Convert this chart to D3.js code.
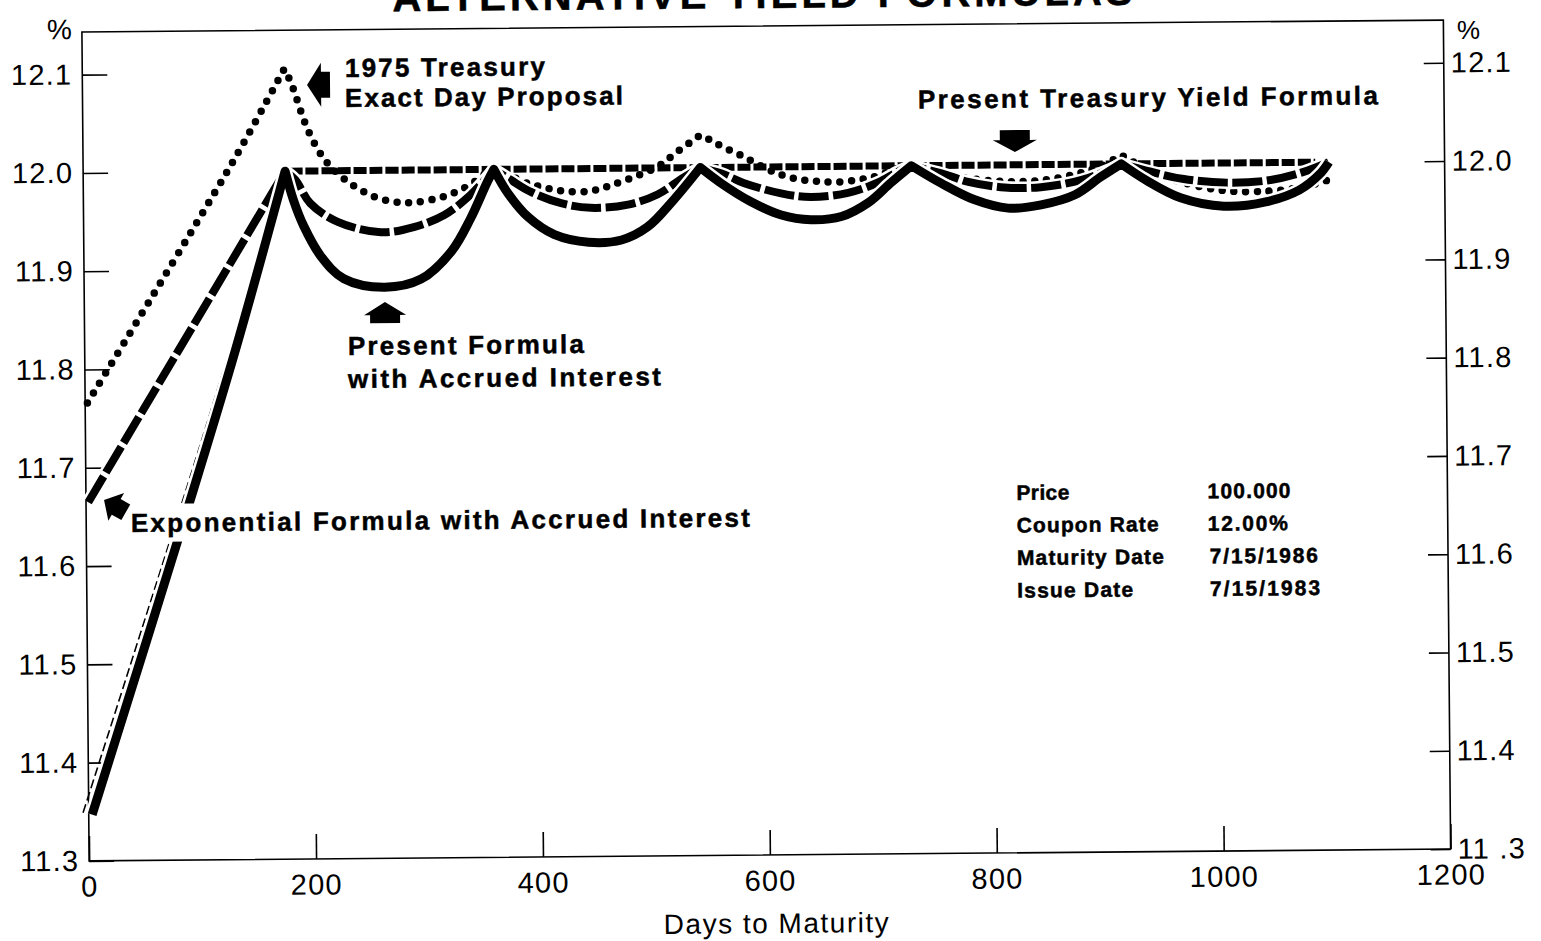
<!DOCTYPE html>
<html>
<head>
<meta charset="utf-8">
<title>Alternative Yield Formulas</title>
<script src="https://cdn.jsdelivr.net/npm/d3@7"></script>
<style>
  html, body { margin: 0; padding: 0; background: #ffffff; }
  svg { display: block; }
  text { font-family: "Liberation Sans", Arial, Helvetica, sans-serif; fill: #000; }
  .bold { font-weight: bold; stroke: #000; stroke-width: 0.5px; }
</style>
</head>
<body>
<div id="chart"></div>
<script>
// Axis ticks
const dayTicks = [0, 200, 400, 600, 800, 1000, 1200];
const yieldTicks = [11.3, 11.4, 11.5, 11.6, 11.7, 11.8, 11.9, 12.0, 12.1];
const leftYieldLabels = ["11.3", "11.4", "11.5", "11.6", "11.7", "11.8", "11.9", "12.0", "12.1"];
const rightYieldLabels = ["11 .3", "11.4", "11.5", "11.6", "11.7", "11.8", "11.9", "12.0", "12.1"];

// Series, one array per coupon period, points are [days to maturity, yield %]
const presentWithAccrued = [
  [[3, 11.347], [91, 11.663], [133, 11.819], [178, 12.0]],
  [[178, 12.0], [185, 11.971], [194, 11.944], [209, 11.913], [229, 11.890], [265, 11.881], [297, 11.889], [324, 11.917], [341, 11.950], [356, 11.987], [362, 12.0]],
  [[362, 12.0], [374, 11.976], [392, 11.951], [415, 11.933], [445, 11.925], [474, 11.927], [497, 11.940], [520, 11.967], [544, 12.0]],
  [[544, 12.0], [562, 11.984], [588, 11.965], [615, 11.951], [641, 11.946], [668, 11.949], [692, 11.963], [712, 11.983], [730, 12.0]],
  [[730, 12.0], [756, 11.982], [785, 11.965], [815, 11.956], [844, 11.959], [874, 11.969], [897, 11.987], [915, 12.0]],
  [[915, 12.0], [937, 11.983], [967, 11.965], [1005, 11.956], [1042, 11.960], [1072, 11.972], [1090, 11.988], [1098, 12.0]]
];

const exponentialWithAccrued = [
  [[2, 11.665], [178, 12.0]],
  [[178, 12.0], [187, 11.991], [200, 11.967], [224, 11.948], [262, 11.937], [291, 11.942], [318, 11.954], [341, 11.974], [356, 11.992], [362, 12.0]],
  [[362, 12.0], [377, 11.989], [394, 11.977], [421, 11.965], [447, 11.960], [480, 11.963], [506, 11.973], [529, 11.990], [544, 12.0]],
  [[544, 12.0], [562, 11.994], [582, 11.984], [615, 11.973], [641, 11.969], [674, 11.973], [700, 11.983], [718, 11.994], [730, 12.0]],
  [[730, 12.0], [762, 11.990], [780, 11.983], [812, 11.977], [844, 11.977], [880, 11.984], [904, 11.994], [915, 12.0]],
  [[915, 12.0], [940, 11.992], [970, 11.984], [1008, 11.980], [1045, 11.982], [1075, 11.990], [1098, 12.0]]
];

const presentTreasury = [
  [[182, 12.0], [362, 12.0], [544, 12.0], [730, 12.0], [915, 12.0], [1086, 12.0]]
];

const presentTreasuryLastPeriod = [
  [[-5, 11.349], [85, 11.665], [128, 11.819], [178, 12.0]]
];

const exactDay1975 = [
  [[2, 11.766], [132, 12.010], [178, 12.104]],
  [[178, 12.104], [182, 12.095], [187, 12.080], [192, 12.062], [198, 12.043], [206, 12.024], [216, 12.007], [233, 11.989], [253, 11.975], [273, 11.968], [290, 11.967], [312, 11.971], [330, 11.978], [347, 11.989], [362, 12.0],
   [388, 11.987], [406, 11.981], [425, 11.977], [446, 11.977], [463, 11.982], [483, 11.990], [506, 12.001], [519, 12.012], [528, 12.020], [537, 12.027], [544, 12.033]],
  [[544, 12.033], [553, 12.028], [562, 12.022], [571, 12.017], [580, 12.012], [588, 12.007], [608, 11.995], [618, 11.991], [627, 11.988], [637, 11.986], [648, 11.985], [660, 11.984], [676, 11.985], [688, 11.987], [697, 11.989], [730, 12.0],
   [756, 11.991], [785, 11.986], [815, 11.983], [845, 11.984], [875, 11.990], [897, 11.998], [915, 12.009]],
  [[915, 12.009], [935, 11.996], [965, 11.982], [1005, 11.972], [1045, 11.971], [1075, 11.975], [1101, 11.983]]
];

// Bond description box
const bondTerms = ["Price", "Coupon Rate", "Maturity Date", "Issue Date"];
const bondValues = ["100.000", "12.00%", "7/15/1986", "7/15/1983"];


const width = 1541, height = 941;
const svg = d3.select("#chart").append("svg")
  .attr("width", width)
  .attr("height", height);

// the scanned page sits tilted by about half a degree
const chart = svg.append("g").attr("transform", "rotate(-0.5 766 440)");

const x = d3.scaleLinear().domain([0, 1200]).range([85.5, 1447]);
const y = d3.scaleLinear().domain([11.3, 12.0]).range([855, 167]);
const plotTop = 26;

// Frame
chart.append("rect")
  .attr("x", x(0))
  .attr("y", plotTop)
  .attr("width", x(1200) - x(0))
  .attr("height", y(11.3) - plotTop)
  .attr("fill", "none")
  .attr("stroke", "#000")
  .attr("stroke-width", 1.6);

function styleAxis(sel) {
  sel.attr("font-family", null).attr("font-size", null);
  sel.select(".domain").remove();
  sel.selectAll(".tick line").attr("stroke", "#000").attr("stroke-width", 1.6);
  sel.selectAll(".tick text")
    .style("font-size", "29px")
    .style("letter-spacing", "1.2px");
}

// Axes, ticks point inward
chart.append("g")
  .attr("transform", `translate(0,${y(11.3)})`)
  .call(d3.axisBottom(x).tickValues(dayTicks).tickSize(-25).tickPadding(15).tickFormat(d3.format("d")))
  .call(styleAxis);

chart.append("g")
  .attr("transform", `translate(${x(0)},0)`)
  .call(d3.axisLeft(y).tickValues(yieldTicks).tickSize(-25).tickPadding(10).tickFormat((d, i) => leftYieldLabels[i]))
  .call(styleAxis);

chart.append("g")
  .attr("transform", `translate(${x(1200)},0)`)
  .call(d3.axisRight(y).tickValues(yieldTicks).tickSize(-20).tickPadding(7).tickFormat((d, i) => rightYieldLabels[i]))
  .call(styleAxis);

// Unit labels
chart.append("text")
  .attr("x", 63).attr("y", 33)
  .attr("text-anchor", "middle")
  .attr("font-size", 28)
  .text("%");

chart.append("text")
  .attr("x", 1472).attr("y", 45)
  .attr("text-anchor", "middle")
  .attr("font-size", 26)
  .text("%");

// Titles
chart.append("text")
  .attr("class", "bold")
  .attr("x", x(600)).attr("y", 8)
  .attr("text-anchor", "middle")
  .attr("font-size", 40)
  .attr("textLength", 740)
  .attr("lengthAdjust", "spacing")
  .text("ALTERNATIVE YIELD FORMULAS");

chart.append("text")
  .attr("x", 772).attr("y", 933)
  .attr("text-anchor", "middle")
  .attr("font-size", 28)
  .attr("textLength", 225)
  .attr("lengthAdjust", "spacing")
  .text("Days to Maturity");

// Series
const line = d3.line()
  .x(d => x(d[0]))
  .y(d => y(d[1]))
  .curve(d3.curveCatmullRom.alpha(0.5));

// periods are joined into one path so the dash pattern runs on, with a cusp at each coupon date
function periodsPath(periods) {
  return periods.map((p, i) => i === 0 ? line(p) : line(p).replace(/^M[^CL]*/, "")).join("");
}

const seriesList = [
  { periods: exactDay1975, width: 7.5, dash: "0,11.7", cap: "round", casing: 0 },
  { periods: presentTreasury, width: 7, dash: "13,3", cap: "butt", casing: 0 },
  { periods: presentTreasuryLastPeriod, width: 1.6, dash: "9,4", cap: "butt", casing: 0 },
  { periods: exponentialWithAccrued, width: 8, dash: "30,4.5", cap: "butt", casing: 2.5 },
  { periods: presentWithAccrued, width: 9, dash: null, cap: "butt", casing: 2.5 }
];

const seriesLayer = chart.append("g").attr("class", "series");
seriesList.forEach(s => {
  const d = periodsPath(s.periods);
  if (s.casing) {
    seriesLayer.append("path")
      .attr("d", d)
      .attr("fill", "none")
      .attr("stroke", "#fff")
      .attr("stroke-width", s.width + 2 * s.casing)
      .attr("stroke-linejoin", "round");
  }
  seriesLayer.append("path")
    .attr("d", d)
    .attr("fill", "none")
    .attr("stroke", "#000")
    .attr("stroke-width", s.width)
    .attr("stroke-dasharray", s.dash)
    .attr("stroke-linecap", s.cap)
    .attr("stroke-linejoin", "round");
});

// Callouts
const callouts = [
  { text: "1975 Treasury", day: 231.5, value: 12.0953, len: 200 },
  { text: "Exact Day Proposal", day: 231.3, value: 12.0648, len: 278 },
  { text: "Present Treasury Yield Formula", day: 736.3, value: 12.0582, len: 460 },
  { text: "Present Formula", day: 232.0, value: 11.8124, len: 236 },
  { text: "with Accrued Interest", day: 231.8, value: 11.7788, len: 313 },
  { text: "Exponential Formula with Accrued Interest", day: 39.4, value: 11.6343, len: 619 }
];

const arrows = [
  { day: 198.0, value: 12.0876, angle: 180, head: [14, 22], shaft: [9, 13] },
  { day: 821.4, value: 12.0130, angle: 90, head: [12, 22], shaft: [10, 15] },
  { day: 265.0, value: 11.8660, angle: -90, head: [13, 21], shaft: [8, 15] },
  { day: 15.9, value: 11.6671, angle: 210, head: [14, 16], shaft: [11, 9] }
];

const labelLayer = chart.append("g").attr("class", "callouts");
const knockouts = labelLayer.append("g");
callouts.forEach(c => {
  const t = labelLayer.append("text")
    .attr("class", "bold")
    .attr("x", x(c.day))
    .attr("y", y(c.value))
    .attr("font-size", 26)
    .attr("textLength", c.len)
    .attr("lengthAdjust", "spacing")
    .text(c.text);
  // white patch so the lines stop short of the text
  const b = t.node().getBBox();
  knockouts.append("rect")
    .attr("x", b.x - 4)
    .attr("y", b.y - 4)
    .attr("width", b.width + 8)
    .attr("height", b.height + 8)
    .attr("fill", "#fff");
});

function arrowPoints(a) {
  const [hl, hw] = a.head;
  const [sl, sw] = a.shaft;
  return [[0, 0], [-hl, -hw], [-hl, -sw], [-hl - sl, -sw], [-hl - sl, sw], [-hl, sw], [-hl, hw]];
}

labelLayer.selectAll("polygon")
  .data(arrows)
  .join("polygon")
  .attr("points", d => arrowPoints(d).join(" "))
  .attr("transform", d => `translate(${x(d.day)},${y(d.value)}) rotate(${d.angle})`)
  .attr("fill", "#000");

// Bond box
const infoLayer = chart.append("g").attr("class", "bond-info");
const termLens = [53, 142, 147, 116];
const valueLens = [83, 80, 108, 110];
bondTerms.forEach((term, i) => {
  const rowY = y(11.659 - i * 0.0331);
  infoLayer.append("text")
    .attr("class", "bold")
    .attr("x", x(820)).attr("y", rowY)
    .attr("font-size", 21)
    .attr("textLength", termLens[i]).attr("lengthAdjust", "spacing")
    .text(term);
  infoLayer.append("text")
    .attr("class", "bold")
    .attr("x", x(i < 2 ? 988.5 : 990)).attr("y", rowY)
    .attr("font-size", 21)
    .attr("textLength", valueLens[i]).attr("lengthAdjust", "spacing")
    .text(bondValues[i]);
});
</script>
</body>
</html>
